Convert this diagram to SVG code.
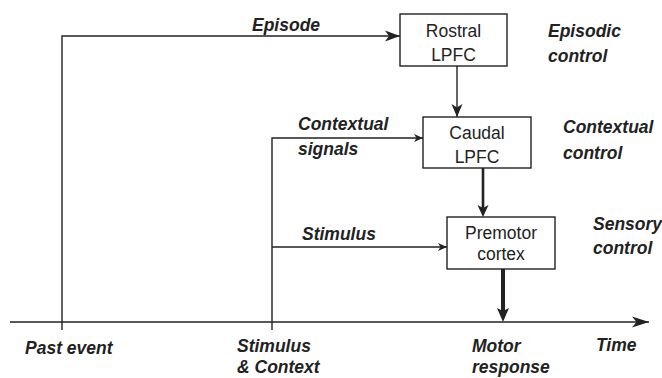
<svg xmlns="http://www.w3.org/2000/svg" width="662" height="378" viewBox="0 0 662 378">
<style>
  .box { fill: #fff; stroke: #222; stroke-width: 1.4; }
  .ln { fill: none; stroke: #222; stroke-width: 1.4; }
  .bt { font-family: "Liberation Sans", Arial, sans-serif; font-size: 17.5px; fill: #222; text-anchor: middle; }
  .lb { font-family: "Liberation Sans", Arial, sans-serif; font-size: 17.5px; font-weight: bold; font-style: italic; fill: #222; }
  .ah { fill: #222; }
</style>
<defs>
  <marker id="aBig" markerUnits="userSpaceOnUse" viewBox="-16 -6 17 12" refX="0" refY="0" markerWidth="17" markerHeight="12" orient="auto">
    <path class="ah" d="M0,0 L-15,-5.5 L-11,0 L-15,5.5 Z"/>
  </marker>
  <marker id="aSm" markerUnits="userSpaceOnUse" viewBox="-10 -5 11 10" refX="0" refY="0" markerWidth="11" markerHeight="10" orient="auto">
    <path class="ah" d="M0,0 L-9,-4 L-6.5,0 L-9,4 Z"/>
  </marker>
  <marker id="aMed" markerUnits="userSpaceOnUse" viewBox="-14 -6 15 12" refX="0" refY="0" markerWidth="15" markerHeight="12" orient="auto">
    <path class="ah" d="M0,0 L-13,-5.5 L-9.5,0 L-13,5.5 Z"/>
  </marker>
  <marker id="aAx" markerUnits="userSpaceOnUse" viewBox="-19 -6 20 12" refX="0" refY="0" markerWidth="20" markerHeight="12" orient="auto">
    <path class="ah" d="M0,0 L-17,-5.5 L-12.5,0 L-17,5.5 Z"/>
  </marker>
</defs>
<rect width="662" height="378" fill="#fff"/>

<g id="connectors">
  <!-- time axis -->
  <line class="ln" x1="10" y1="322" x2="649" y2="322" marker-end="url(#aAx)"/>
  <!-- episode -->
  <polyline class="ln" points="62,330 62,36 400,36" marker-end="url(#aBig)"/>
  <!-- contextual signals -->
  <polyline class="ln" points="272,330 272,138 423,138" marker-end="url(#aSm)"/>
  <!-- stimulus -->
  <line class="ln" x1="272" y1="247" x2="447" y2="247" marker-end="url(#aSm)"/>
  <!-- rostral -> caudal -->
  <line class="ln" x1="457" y1="66" x2="457" y2="117" marker-end="url(#aMed)"/>
  <!-- caudal -> premotor -->
  <line class="ln" x1="483" y1="168" x2="483" y2="210" style="stroke-width:2.6"/>
  <path class="ah" d="M483,217 L477.5,205 L483,208 L488.5,205 Z"/>
  <!-- premotor -> axis -->
  <line class="ln" x1="503" y1="269" x2="503" y2="312" style="stroke-width:4"/>
  <path class="ah" d="M503,322 L497,308 L503,311 L509,308 Z"/>
</g>

<g id="rostral">
  <rect class="box" x="400" y="14" width="107" height="52"/>
  <text class="bt" x="453.5" y="37">Rostral</text>
  <text class="bt" x="453.5" y="61">LPFC</text>
</g>
<g id="caudal">
  <rect class="box" x="423" y="117" width="108" height="51"/>
  <text class="bt" x="477" y="139">Caudal</text>
  <text class="bt" x="477" y="163">LPFC</text>
</g>
<g id="premotor">
  <rect class="box" x="447" y="217" width="108" height="52"/>
  <text class="bt" x="501" y="239">Premotor</text>
  <text class="bt" x="501" y="260">cortex</text>
</g>

<g id="labels">
  <text class="lb" x="252" y="31">Episode</text>
  <text class="lb" x="298" y="130">Contextual</text>
  <text class="lb" x="298" y="155">signals</text>
  <text class="lb" x="302" y="240">Stimulus</text>
  <text class="lb" x="548" y="37">Episodic</text>
  <text class="lb" x="548" y="62">control</text>
  <text class="lb" x="563" y="133">Contextual</text>
  <text class="lb" x="563" y="159">control</text>
  <text class="lb" x="593" y="230">Sensory</text>
  <text class="lb" x="593" y="254">control</text>
  <text class="lb" x="25" y="354">Past event</text>
  <text class="lb" x="237" y="352">Stimulus</text>
  <text class="lb" x="237" y="373">&amp; Context</text>
  <text class="lb" x="472" y="352">Motor</text>
  <text class="lb" x="472" y="373">response</text>
  <text class="lb" x="596" y="351">Time</text>
</g>
</svg>
